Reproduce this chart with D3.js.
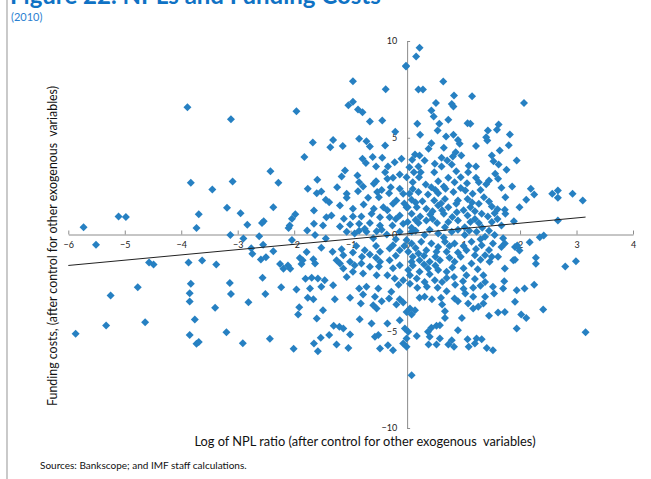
<!DOCTYPE html>
<html>
<head>
<meta charset="utf-8">
<script src="https://cdn.jsdelivr.net/npm/d3@7"></script>
<style>
  html, body { margin: 0; padding: 0; background: #fff; }
  svg { display: block; }
</style>
</head>
<body>
<svg id="chart" width="651" height="479"></svg>
<script>
// ---------- data ----------
const titleText = "Figure 22. NPLs and Funding Costs";
const subtitleText = "(2010)";
const xTitle = "Log of NPL ratio (after control for other exogenous  variables)";
const yTitle = "Funding costs, (after control for other exogenous  variables)";
const sourceText = "Sources: Bankscope; and IMF staff calculations.";

const xTicks = [-6, -5, -4, -3, -2, -1, 0, 1, 2, 3, 4];
const yTicks = [-10, -5, 0, 5, 10];

// trend line end points [npl, funding]
const trendLine = [[-6, -1.6], [3.16, 0.9]];

// scatter points [log NPL ratio, funding costs]
const points = [
[-3.89,6.58],[-3.12,5.96],[-1.96,6.37],[-1.82,4.0],[-1.76,2.36],[-2.42,3.27],[-2.28,2.67],[-3.83,2.67],[-3.09,2.74],[-3.45,2.33],[-2.37,1.41],[-3.19,1.38],[-2.95,1.10],[-3.69,1.05],[-5.11,0.93],[-4.98,0.90],[-5.73,0.38],[-3.73,0.33],[-2.83,0.50],[-2.57,0.59],[-2.54,0.69],[-2.10,0.34],[-2.08,0.47],[-2.04,0.81],[-1.98,1.05],[-1.77,0.21],[-3.13,-0.02],[-2.62,-0.09],[-2.90,-0.21],[-2.04,-0.29],[-5.51,-0.53],[-2.55,-0.53],[-2.76,-0.71],[-2.74,-1.0],[-2.37,-0.86],[-2.59,-1.29],[-2.50,-1.17],[-4.57,-1.45],[-4.49,-1.55],[-3.87,-1.45],[-3.63,-1.34],[-3.38,-1.55],[-2.25,-1.52],[-2.19,-1.77],[-2.11,-1.60],[-2.07,-1.77],[-1.90,-1.21],[-1.87,-1.52],[-1.78,-0.91],[-2.56,-2.24],[-1.80,-2.29],[-3.83,-2.55],[-3.14,-2.50],[-4.77,-2.72],[-2.23,-2.72],[-5.25,-3.15],[-3.85,-3.03],[-3.12,-3.07],[-2.51,-3.07],[-1.96,-2.84],[-3.85,-3.46],[-2.81,-3.50],[-1.76,-3.27],[-3.40,-3.79],[-1.91,-3.76],[-1.93,-4.13],[-3.76,-4.39],[-4.64,-4.53],[-5.33,-4.70],[-5.87,-5.13],[-3.85,-5.19],[-3.20,-5.05],[-3.73,-5.65],[-3.69,-5.56],[-2.91,-5.62],[-2.43,-5.39],[-2.01,-5.91],
[-0.02,8.68],[-0.96,7.92],[-0.38,7.51],[-0.96,6.86],[-1.04,6.68],[-0.87,6.46],[-0.79,6.32],[-0.66,5.84],[-0.44,5.89],[-0.21,5.31],[-1.67,4.75],[-1.31,4.89],[-1.36,4.51],[-1.14,4.58],[-0.85,4.95],[-0.72,4.82],[-0.66,4.55],[-0.39,4.60],[-0.79,3.91],[-0.61,4.0],[-0.44,3.96],[-0.73,3.69],[-0.55,3.51],[-0.34,3.51],[-0.22,3.74],[-0.10,3.91],[-1.10,3.31],[-1.16,3.0],[-0.39,3.22],[-0.13,3.10],[-0.88,3.05],[-1.59,2.83],[-0.85,2.70],[-0.35,2.88],[-0.25,2.93],[-1.24,2.44],[-0.78,2.48],[-0.59,2.62],[-0.29,2.44],[-0.13,2.36],[-1.60,2.13],[-1.52,2.22],[-1.07,2.10],[-0.87,2.24],[-0.53,2.19],[-0.32,2.13],[-0.07,2.10],[-1.44,1.79],[-1.38,1.67],[-1.07,1.90],[-0.69,1.90],[-0.50,1.93],[-0.19,1.76],[-1.19,1.50],[-0.77,1.55],[-0.59,1.33],[-0.42,1.41],[-0.25,1.59],[-0.01,1.41],[-1.65,1.24],[-1.43,0.89],[-1.34,0.98],[-1.12,0.81],[-0.96,1.33],[-0.96,0.93],[-0.81,0.93],[-0.63,1.07],[-0.48,0.89],[-0.31,0.89],[-0.13,0.98],[-1.65,0.55],[-1.49,0.47],[-1.19,0.41],[-1.01,0.52],[-0.85,0.55],[-0.66,0.59],[-0.48,0.47],[-0.26,0.47],[-0.07,0.55],[-0.75,0.30],
[0.22,9.65],[0.16,9.20],[-0.02,8.72],[0.64,7.91],[0.20,7.49],[0.28,7.49],[0.83,7.18],[1.15,7.15],[2.07,6.79],[0.51,6.79],[0.79,6.75],[0.82,6.61],[0.43,6.41],[0.47,6.10],[0.73,5.93],[0.18,5.72],[1.07,5.75],[1.12,5.72],[0.57,5.72],[1.62,5.68],[1.43,5.37],[1.59,5.41],[0.54,5.37],[0.23,5.15],[0.69,5.06],[0.82,5.15],[1.82,5.17],[0.90,4.89],[1.40,5.03],[0.93,4.69],[1.42,4.86],[0.43,4.72],[0.38,4.43],[0.65,4.48],[1.22,4.58],[1.80,4.61],[1.64,4.34],[0.14,4.13],[0.22,4.08],[0.86,4.25],[1.50,4.08],[0.09,3.86],[0.31,3.82],[0.61,3.96],[0.71,3.82],[0.81,4.03],[0.96,4.08],[1.94,3.82],[1.53,3.79],[0.04,3.48],[0.20,3.51],[0.49,3.65],[0.61,3.51],[0.79,3.62],[1.09,3.55],[1.22,3.51],[1.62,3.62],[0.12,3.22],[0.24,3.22],[0.48,3.22],[0.87,3.27],[1.08,3.22],[1.56,3.14],[1.76,3.34],[-0.01,2.96],[0.21,2.96],[0.73,2.93],[0.95,2.96],[1.22,2.93],[1.61,2.88],[0.84,2.70],[1.06,2.65],[1.27,2.70],[1.45,2.79],[0.33,2.58],[0.43,2.44],[0.65,2.48],[1.67,2.41],[1.86,2.48],[0.04,2.10],[0.20,2.19],[0.37,2.07],[0.55,2.13],[0.68,2.36],[0.82,2.19],[1.03,2.27],[1.16,2.10],[1.36,1.93],[1.74,1.93],[0.08,1.79],[0.27,1.72],[0.48,1.76],[0.67,1.84],[0.90,1.76],[1.07,1.84],[1.27,1.59],[1.50,1.45],[1.99,1.41],[0.01,1.41],[0.17,1.41],[0.34,1.33],[0.55,1.50],[0.73,1.41],[0.87,1.59],[1.12,1.41],[1.73,1.28],[0.08,1.07],[0.23,0.93],[0.41,1.03],[0.65,1.07],[0.88,1.15],[1.07,0.98],[1.32,1.07],[1.43,0.93],[1.55,1.10],[1.74,1.07],[0.01,0.64],[0.20,0.59],[0.34,0.72],[0.53,0.59],[0.73,0.64],[0.90,0.72],[1.12,0.64],[1.27,0.59],[1.50,0.64],[1.89,0.69],[1.67,0.47],[0.08,0.35],[0.67,0.38],[1.02,0.38],[1.33,0.35],
[-1.63,-0.03],[-1.44,-0.21],[-1.07,0.14],[-0.93,0.05],[-0.72,0.14],[-0.54,0.17],[-0.36,0.0],[-0.13,0.14],[-0.01,-0.29],[-1.52,-0.69],[-1.32,-0.89],[-1.16,-0.76],[-1.13,-1.07],[-0.96,-0.93],[-0.75,-0.81],[-0.66,-1.03],[-0.48,-0.89],[-0.31,-0.72],[-0.13,-0.81],[-1.85,-1.33],[-1.66,-1.28],[-1.63,-1.50],[-1.25,-1.33],[-1.19,-1.50],[-1.01,-1.41],[-0.93,-1.59],[-0.81,-1.50],[-0.66,-1.67],[-0.48,-1.41],[-0.31,-1.33],[-0.13,-1.59],[-1.13,-1.76],[-0.96,-1.93],[-0.78,-2.02],[-0.54,-2.10],[-1.07,-2.19],[-1.69,-2.24],[-1.58,-2.27],[-1.46,-2.36],[-0.22,-2.27],[-0.07,-2.36],[-1.72,-2.79],[-1.52,-2.70],[-1.31,-2.62],[-0.85,-2.79],[-0.72,-2.70],[-0.51,-2.79],[-0.28,-2.96],[-0.78,-3.10],[-0.57,-3.22],[-1.66,-3.34],[-1.28,-3.34],[-1.01,-3.27],[-0.32,-3.31],[-0.13,-3.34],[-0.45,-3.45],[-0.82,-3.57],[-0.60,-3.65],[-0.19,-3.62],[-0.07,-3.51],[-1.49,-3.91],[-0.54,-3.82],[-1.60,-4.34],[-0.84,-4.38],[-0.63,-4.60],[-0.35,-4.60],[-0.13,-4.43],[-0.01,-4.0],[-1.30,-4.72],[-1.20,-4.77],[-1.13,-4.86],[-1.01,-5.17],[-1.38,-5.20],[-1.53,-5.34],[-0.57,-5.29],[-0.51,-5.20],[-0.04,-4.86],[-0.01,-5.37],[-1.65,-5.63],[-1.25,-5.68],[-1.04,-5.86],[-1.58,-6.03],[-0.48,-5.89],[-0.34,-5.72],[-0.25,-5.98],[-0.07,-5.63],[0.08,-7.27],
[0.08,0.14],[0.31,-0.03],[0.55,0.05],[0.79,0.14],[1.02,-0.03],[1.23,0.14],[1.38,-0.12],[1.55,-0.03],[0.08,-0.47],[0.25,-0.38],[0.43,-0.47],[0.67,-0.38],[0.84,-0.47],[1.14,-0.38],[1.32,-0.55],[1.52,-0.47],[1.73,-0.47],[1.67,-0.64],[1.91,-0.64],[0.02,-0.89],[0.20,-0.98],[0.34,-0.81],[0.52,-0.89],[0.70,-0.89],[0.90,-0.93],[1.05,-0.81],[1.20,-1.07],[1.38,-1.07],[1.61,-1.15],[1.88,-1.33],[0.08,-1.41],[0.22,-1.33],[0.40,-1.41],[0.58,-1.33],[0.84,-1.41],[1.14,-1.50],[1.46,-1.41],[1.73,-1.76],[0.02,-1.84],[0.22,-1.93],[0.37,-1.76],[0.55,-1.84],[0.70,-1.93],[0.83,-2.19],[0.99,-2.41],[1.35,-2.10],[1.38,-2.45],[1.72,-2.41],[0.17,-2.27],[0.31,-2.45],[0.49,-2.36],[0.62,-2.45],[0.18,-2.75],[0.54,-2.75],[0.70,-2.93],[1.17,-2.75],[1.52,-2.70],[1.70,-2.79],[1.94,-2.88],[2.08,-2.79],[1.03,-3.05],[1.17,-3.22],[1.54,-3.05],[0.22,-3.27],[0.31,-3.22],[0.44,-3.34],[0.60,-3.27],[0.84,-3.31],[0.90,-3.45],[1.38,-3.22],[1.35,-3.57],[1.08,-3.57],[0.05,-3.82],[0.14,-3.91],[0.62,-3.62],[0.67,-3.96],[1.17,-3.82],[1.26,-3.74],[1.61,-4.03],[1.73,-4.0],[1.91,-3.48],[2.02,-4.13],[0.08,-4.13],[0.67,-4.31],[0.97,-4.31],[1.45,-4.20],[1.94,-4.86],[0.43,-4.82],[0.52,-4.72],[0.58,-4.69],[0.37,-5.03],[0.90,-4.95],[0.02,-5.03],[0.17,-5.24],[0.40,-5.29],[0.58,-5.37],[1.07,-5.41],[1.23,-5.37],[1.32,-5.41],[0.79,-5.46],[0.38,-5.68],[0.52,-5.68],[0.73,-5.68],[0.83,-5.80],[1.09,-5.80],[1.20,-5.63],[1.41,-5.86],[1.52,-5.98],[-0.01,-5.80],
[2.19,2.36],[2.25,2.07],[2.11,1.79],[2.57,2.10],[2.67,2.27],[2.67,1.90],[2.93,2.10],[3.11,1.76],[2.67,0.72],[2.35,-0.14],[2.42,-0.05],[2.17,-0.40],[1.95,-0.57],[1.99,-0.83],[1.91,-1.31],[2.28,-1.20],[2.28,-1.51],[2.80,-1.65],[2.99,-1.38],[2.25,-2.60],[2.11,-4.31],[2.41,-3.88],[3.16,-5.05],
[-0.85,0.2],[-0.6,-0.2],[-0.45,0.25],[-0.2,-0.25],[0.15,0.2],[0.4,0.25],[0.65,-0.15],[0.9,0.25],[1.1,0.2],[1.3,-0.25],[1.45,0.2],[1.7,-0.2],
[-0.9,-0.6],[-0.55,-0.6],[-0.25,-0.55],[-0.05,-0.6],[0.15,-0.7],[0.55,-0.65],[0.75,-0.6],[1.0,-0.6],[1.22,-0.75],[1.45,-0.8],
[-0.8,-1.15],[-0.55,-1.2],[-0.2,-1.1],[0.1,-1.15],[0.3,-1.1],[0.5,-1.15],[0.75,-1.2],[0.95,-1.15],[1.3,-1.3],[1.5,-1.15],
[-0.5,-1.65],[-0.25,-1.75],[0.1,-1.6],[0.3,-1.55],[0.5,-1.6],[0.8,-1.7],[1.0,-1.75],[1.25,-1.8],
[-0.35,-2.1],[0.05,-2.1],[0.4,-2.05],[0.7,-2.25],[1.05,-2.1],[1.2,-2.3],
[-0.15,-2.6],[0.05,-2.55],[0.35,-2.7],[0.85,-2.6],[1.0,-2.8],[1.3,-2.65],
[-0.2,0.8],[0.15,0.75],[0.45,0.8],[0.8,0.9],[1.2,0.8],[1.6,0.8],
[-0.35,1.25],[0.45,1.2],[0.62,1.25],[1.0,1.25],[1.2,1.2],[1.6,1.3],
[-0.05,1.6],[0.15,1.65],[0.6,1.6],[1.15,1.65],[1.45,1.7],
[-0.45,2.3],[0.1,2.35],[0.5,2.3],[0.95,2.4],[1.3,2.3],
[-0.55,2.75],[0.1,2.7],[0.55,2.75],[1.4,2.6]
];

// ---------- drawing ----------
const svg = d3.select("#chart");
const font = "Lato, 'Open Sans', sans-serif";

const x = d3.scaleLinear().domain([-6, 4]).range([68.3, 633]);
const y = d3.scaleLinear().domain([-10, 10]).range([428, 41]);

// left page rule
svg.append("line")
  .attr("x1", 7).attr("x2", 7).attr("y1", 0).attr("y2", 479)
  .attr("stroke", "#a6a6a6").attr("stroke-width", 1.2);

// title (clipped at top, as in the reference)
svg.append("text")
  .attr("x", 10).attr("y", 4)
  .attr("font-family", font).attr("font-weight", "bold")
  .attr("font-size", 24).attr("fill", "#0f72c4")
  .text(titleText);
svg.append("text")
  .attr("x", 11).attr("y", 21)
  .attr("font-family", font).attr("font-size", 11).attr("fill", "#2b7fd1")
  .text(subtitleText);

// axes
const xAxis = d3.axisBottom(x).tickValues(xTicks).tickFormat(d3.format("d"))
  .tickSizeInner(-4).tickSizeOuter(0).tickPadding(7);
const yAxis = d3.axisLeft(y).tickValues(yTicks).tickFormat(d3.format("d"))
  .tickSizeInner(-3).tickSizeOuter(0).tickPadding(10);

const gx = svg.append("g").attr("transform", `translate(0,${y(0)})`).call(xAxis);
const gy = svg.append("g").attr("transform", `translate(${x(0)},0)`).call(yAxis);
[gx, gy].forEach(g => {
  g.select(".domain").attr("stroke", "#8c8c8c");
  g.selectAll(".tick line").attr("stroke", "#8c8c8c");
  g.selectAll(".tick text").attr("font-family", font).attr("font-size", 9).attr("fill", "#222");
});

// points
const diamond = d3.symbol(d3.symbolSquare, 32);
svg.append("g").selectAll("path").data(points).join("path")
  .attr("d", diamond)
  .attr("transform", d => `translate(${x(d[0])},${y(d[1])}) rotate(45)`)
  .attr("fill", "#2680c2");

// trend line
svg.append("path")
  .datum(trendLine)
  .attr("d", d3.line().x(d => x(d[0])).y(d => y(d[1])))
  .attr("fill", "none").attr("stroke", "#222").attr("stroke-width", 1);

// axis titles
svg.append("text")
  .attr("x", 365).attr("y", 446)
  .attr("text-anchor", "middle")
  .attr("font-family", font).attr("font-size", 12.8).attr("fill", "#111")
  .attr("xml:space", "preserve")
  .text(xTitle);
svg.append("text")
  .attr("transform", "translate(57,246) rotate(-90)")
  .attr("text-anchor", "middle")
  .attr("font-family", font).attr("font-size", 12.4).attr("fill", "#111")
  .attr("xml:space", "preserve")
  .text(yTitle);

// source
svg.append("text")
  .attr("x", 40).attr("y", 469)
  .attr("font-family", font).attr("font-size", 10).attr("fill", "#111")
  .text(sourceText);
</script>
</body>
</html>
